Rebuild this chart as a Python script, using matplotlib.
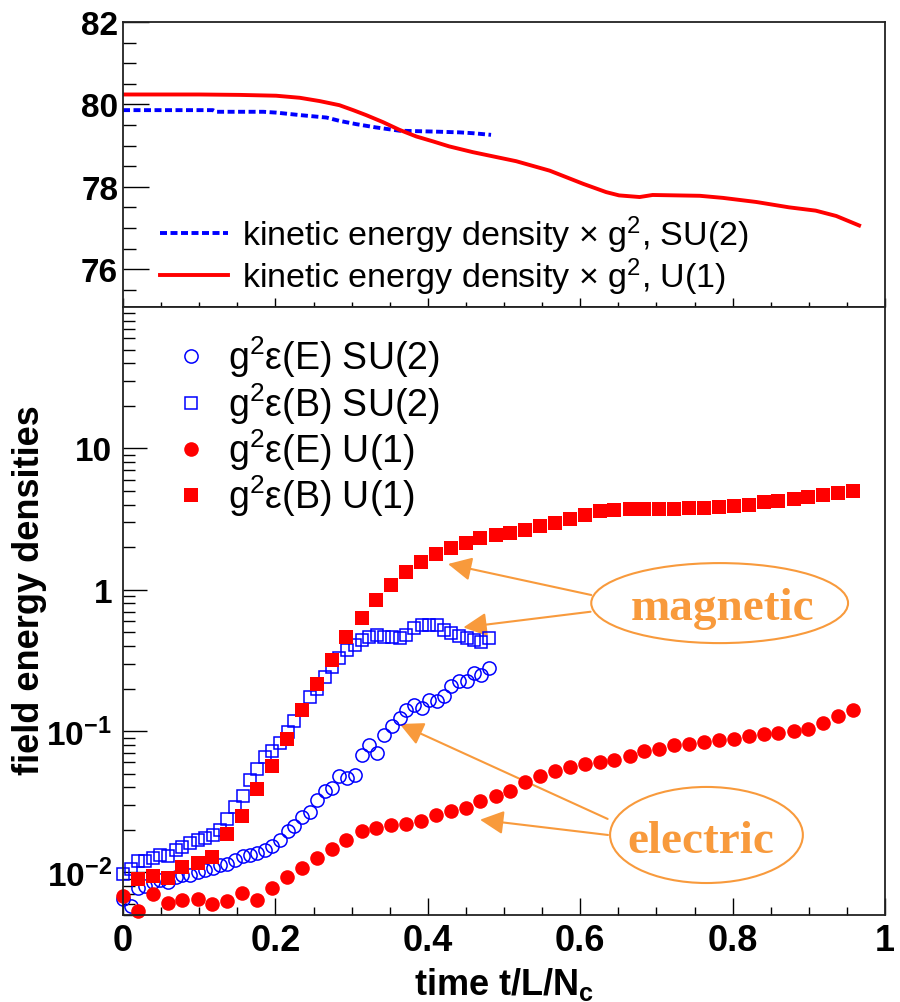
import matplotlib
matplotlib.use('Agg')
import matplotlib.pyplot as plt
from matplotlib.ticker import MultipleLocator, LogLocator, NullFormatter, FixedLocator, FuncFormatter
from matplotlib.patches import Ellipse, FancyArrowPatch

plt.rcParams['font.family'] = ['Liberation Sans', 'DejaVu Sans']
plt.rcParams['mathtext.fontset'] = 'custom'
plt.rcParams['mathtext.rm'] = 'Liberation Sans'
plt.rcParams['mathtext.it'] = 'Liberation Sans:italic'
plt.rcParams['mathtext.bf'] = 'Liberation Sans:bold'

# ---- kinetic energy density (top panel) ----
t_kin_u1 = [0.0, 0.10, 0.153, 0.201, 0.232, 0.258, 0.284, 0.302, 0.319, 0.341, 0.363, 0.385,
            0.407, 0.428, 0.459, 0.516, 0.56, 0.604, 0.634, 0.651, 0.678, 0.695, 0.757, 0.787,
            0.831, 0.874, 0.909, 0.936, 0.966]
kin_u1 = [80.24, 80.24, 80.23, 80.21, 80.16, 80.08, 79.98, 79.86, 79.74, 79.57, 79.38, 79.22,
          79.10, 78.98, 78.84, 78.62, 78.39, 78.07, 77.87, 77.79, 77.75, 77.80, 77.78, 77.73,
          77.63, 77.50, 77.42, 77.29, 77.06]
t_kin_su2 = [0.0, 0.118, 0.122, 0.184, 0.201, 0.232, 0.267, 0.284, 0.306, 0.332, 0.363, 0.407,
             0.442, 0.459, 0.483]
kin_su2 = [79.86, 79.86, 79.82, 79.82, 79.80, 79.74, 79.68, 79.60, 79.52, 79.44, 79.36, 79.34,
           79.32, 79.30, 79.26]

# ---- field energy densities (bottom panel) ----
t_u1 = [0.000, 0.020, 0.039, 0.059, 0.078, 0.098, 0.117, 0.137, 0.156, 0.176,
        0.196, 0.215, 0.235, 0.254, 0.274, 0.293, 0.313, 0.332, 0.352, 0.371,
        0.391, 0.411, 0.430, 0.450, 0.469, 0.489, 0.508, 0.528, 0.547, 0.567,
        0.587, 0.606, 0.626, 0.645, 0.665, 0.684, 0.704, 0.723, 0.743, 0.762,
        0.782, 0.802, 0.821, 0.841, 0.860, 0.880, 0.899, 0.919, 0.938, 0.958]
e_u1 = [0.00676, 0.00530, 0.00702, 0.00607, 0.00640, 0.00650, 0.00600, 0.00630, 0.00714, 0.00640,
        0.00774, 0.00921, 0.0107, 0.0126, 0.0147, 0.0170, 0.0198, 0.0206, 0.0215, 0.0221,
        0.0232, 0.0256, 0.0270, 0.0285, 0.0318, 0.0345, 0.0378, 0.0436, 0.0478, 0.0518,
        0.0553, 0.0584, 0.0604, 0.0627, 0.0669, 0.0718, 0.0750, 0.0792, 0.0813, 0.0836,
        0.0859, 0.0882, 0.0927, 0.0952, 0.0968, 0.0995, 0.104, 0.114, 0.128, 0.142]
b_u1 = [0.0090, 0.0095, 0.0092, 0.0110, 0.0116, 0.0128, 0.0187, 0.0252, 0.0391,
        0.0562, 0.0877, 0.1415, 0.215, 0.316, 0.460, 0.630, 0.850, 1.08, 1.33,
        1.57, 1.79, 1.97, 2.14, 2.31, 2.42, 2.52, 2.63, 2.81, 2.97,
        3.17, 3.39, 3.62, 3.68, 3.74, 3.74, 3.74, 3.74, 3.79, 3.79,
        3.83, 3.89, 4.00, 4.18, 4.27, 4.39, 4.53, 4.66, 4.83, 5.02]

t_su2 = [0.000, 0.010, 0.020, 0.029, 0.039, 0.049, 0.059, 0.069, 0.078, 0.088,
         0.098, 0.108, 0.118, 0.127, 0.137, 0.147, 0.157, 0.167, 0.176, 0.186,
         0.196, 0.206, 0.216, 0.225, 0.235, 0.245, 0.255, 0.265, 0.274, 0.284,
         0.294, 0.304, 0.314, 0.323, 0.333, 0.343, 0.353, 0.363, 0.372, 0.382,
         0.392, 0.402, 0.412, 0.421, 0.431, 0.441, 0.451, 0.461, 0.470, 0.480]
e_su2 = [0.0065, 0.0058, 0.0078, 0.0080, 0.0086, 0.0088, 0.0086, 0.0093, 0.0096, 0.0096,
         0.0101, 0.0104, 0.0107, 0.0113, 0.0114, 0.0123, 0.0130, 0.0133, 0.0137, 0.0143,
         0.0155, 0.0170, 0.0195, 0.0212, 0.0245, 0.0268, 0.0327, 0.0378, 0.0395, 0.0478,
         0.0465, 0.049, 0.068, 0.080, 0.070, 0.094, 0.108, 0.124, 0.142, 0.152,
         0.146, 0.167, 0.162, 0.176, 0.207, 0.225, 0.225, 0.257, 0.250, 0.279]
b_su2 = [0.0098, 0.0105, 0.0120, 0.0121, 0.0126, 0.0132, 0.0131, 0.0144, 0.0152, 0.0161,
         0.0171, 0.0176, 0.0185, 0.0200, 0.0238, 0.0290, 0.0350, 0.0450, 0.0540, 0.0660,
         0.0720, 0.0830, 0.0980, 0.117, 0.140, 0.175, 0.200, 0.240, 0.285, 0.330,
         0.376, 0.408, 0.440, 0.465, 0.480, 0.465, 0.462, 0.458, 0.480, 0.540,
         0.565, 0.565, 0.565, 0.520, 0.495, 0.470, 0.456, 0.440, 0.430, 0.455]

orange = '#f89a3c'

fig = plt.figure(figsize=(9, 10.03), dpi=100)
ax1 = fig.add_axes([0.13667, 0.69292, 0.84667, 0.28415])
ax2 = fig.add_axes([0.13667, 0.08674, 0.84667, 0.60618])

for ax in (ax1, ax2):
    for sp in ax.spines.values():
        sp.set_linewidth(1.3)
        sp.set_color('#222222')
    ax.set_xlim(0, 1)
    ax.xaxis.set_major_locator(MultipleLocator(0.2))
    ax.xaxis.set_minor_locator(MultipleLocator(0.05))

# top panel
ax1.plot(t_kin_su2, kin_su2, color='blue', lw=2.8, ls=(0, (1.8, 0.9)),
         label=r'kinetic energy density $\times$ g$^{2}$, SU(2)')
ax1.plot(t_kin_u1, kin_u1, color='red', lw=2.8,
         label=r'kinetic energy density $\times$ g$^{2}$, U(1)')
ax1.set_ylim(75.08, 82)
ax1.yaxis.set_major_locator(MultipleLocator(2))
ax1.yaxis.set_minor_locator(MultipleLocator(0.5))
ax1.tick_params(axis='y', which='major', direction='in', length=19, width=1, pad=3.5,
                labelsize=24, right=False)
ax1.tick_params(axis='y', which='minor', direction='in', length=9.5, width=1, right=False)
ax1.tick_params(axis='x', which='major', direction='in', length=6.5, width=1, top=False,
                labelbottom=False)
ax1.tick_params(axis='x', which='minor', direction='in', length=3.5, width=1, top=False)
for lbl in ax1.get_yticklabels():
    lbl.set_fontweight('bold')
ax1.legend(loc='upper left', bbox_to_anchor=(0.0486, 0.328), frameon=False, fontsize=24.5,
           handlelength=2.0, handletextpad=0.4, borderpad=0, borderaxespad=0,
           labelspacing=0.0)

# bottom panel
ax2.set_yscale('log')
ax2.plot(t_su2, e_su2, ls='none', marker='o', ms=9.5, mfc='none', mec='blue', mew=1.1,
         clip_on=False, label=r'g$^{2}$ε(E) SU(2)')
ax2.plot(t_su2, b_su2, ls='none', marker='s', ms=8.5, mfc='none', mec='blue', mew=1.1,
         clip_on=False, label=r'g$^{2}$ε(B) SU(2)')
ax2.plot(t_u1, e_u1, ls='none', marker='o', ms=10.5, mfc='red', mec='red', mew=0,
         clip_on=False, label=r'g$^{2}$ε(E) U(1)')
ax2.plot(t_u1[1:], b_u1, ls='none', marker='s', ms=10, mfc='red', mec='red', mew=0,
         clip_on=False, label=r'g$^{2}$ε(B) U(1)')
ax2.set_ylim(0.005, 100)
ax2.yaxis.set_major_locator(FixedLocator([0.01, 0.1, 1, 10]))
ax2.yaxis.set_minor_locator(LogLocator(base=10, subs=range(2, 10)))
ax2.yaxis.set_minor_formatter(NullFormatter())
log_labels = {0.01: r'$\mathbf{10^{-2}}$', 0.1: r'$\mathbf{10^{-1}}$', 1: '1', 10: '10'}
ax2.yaxis.set_major_formatter(FuncFormatter(lambda v, p: log_labels.get(round(v, 3), '')))
ax2.tick_params(axis='y', which='major', direction='in', length=17, width=1, pad=8,
                labelsize=24, right=False)
ax2.tick_params(axis='y', which='minor', direction='in', length=8.5, width=1, right=False)
ax2.tick_params(axis='x', which='major', direction='in', length=12, width=1, pad=6,
                labelsize=26, top=False)
ax2.tick_params(axis='x', which='minor', direction='in', length=6, width=1, top=False)
ax2.xaxis.set_major_formatter(FuncFormatter(lambda v, p: '%g' % round(v, 2)))
for lbl in ax2.get_yticklabels() + ax2.get_xticklabels():
    lbl.set_fontweight('bold')

ax2.set_xlabel(r'time t/L/N$_{\mathbf{c}}$', fontsize=26, fontweight='bold')
ax2.xaxis.set_label_coords(0.5, -0.082)
ax2.set_ylabel('field energy densities', fontsize=26, fontweight='bold')
ax2.yaxis.set_label_coords(-0.0997, 0.536)

ax2.legend(loc='upper left', bbox_to_anchor=(0.064, 0.956), frameon=False, fontsize=27,
           handlelength=1.0, handletextpad=0.5, borderpad=0, borderaxespad=0,
           labelspacing=0.02, numpoints=1)

# annotations
ax2.add_patch(Ellipse((0.783, 0.513), 0.337, 0.1316, transform=ax2.transAxes,
                      fill=False, ec=orange, lw=1.5))
ax2.add_patch(Ellipse((0.7657, 0.1316), 0.253, 0.158, transform=ax2.transAxes,
                      fill=False, ec=orange, lw=1.5))
ax2.text(0.7874, 0.487, 'magnetic', transform=ax2.transAxes, ha='center', va='baseline',
         fontsize=34, fontweight='bold', family='Liberation Serif', color=orange)
ax2.text(0.7585, 0.104, 'electric', transform=ax2.transAxes, ha='center', va='baseline',
         fontsize=34, fontweight='bold', family='Liberation Serif', color=orange)

arrows = [((0.6145, 0.5263), (0.4265, 0.5773)),
          ((0.6136, 0.4988), (0.4466, 0.4730)),
          ((0.6360, 0.1580), (0.3631, 0.3141)),
          ((0.6365, 0.1316), (0.4685, 0.1567))]
for start, tip in arrows:
    ax2.add_patch(FancyArrowPatch(start, tip, transform=ax2.transAxes,
                                  arrowstyle='-|>,head_length=0.8,head_width=0.4',
                                  mutation_scale=18, lw=1.5, color=orange,
                                  shrinkA=0, shrinkB=0))

fig.savefig('out.png', dpi=100)
